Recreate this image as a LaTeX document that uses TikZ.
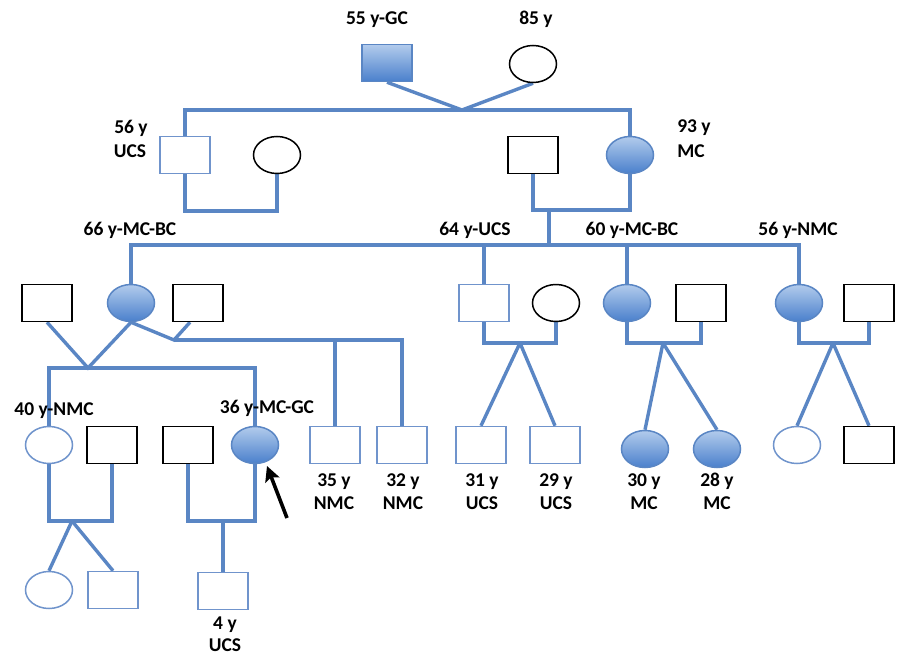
\documentclass[tikz,border=0pt]{standalone}
\usepackage{fontspec}
\setmainfont{Carlito}
\usetikzlibrary{shapes.geometric,arrows.meta,calc,backgrounds}
\definecolor{linec}{HTML}{5A86C4}
\definecolor{outl}{HTML}{7094CC}
\definecolor{filltop}{HTML}{B2CBEC}
\definecolor{fillbot}{HTML}{4A80CC}
\tikzset{
  conn/.style={draw=linec, line width=3.4pt, line join=miter},
  base/.style={inner sep=0pt, minimum width=50pt, minimum height=37pt, line width=1.5pt},
  sqb/.style={base, rectangle, draw=black, fill=white},
  sql/.style={base, rectangle, draw=outl, fill=white},
  sqf/.style={base, rectangle, draw=linec, top color=filltop, bottom color=fillbot},
  elb/.style={base, ellipse, minimum width=47pt, draw=black, fill=white},
  ell/.style={base, ellipse, minimum width=47pt, draw=outl, fill=white},
  elf/.style={base, ellipse, minimum width=47pt, draw=linec, top color=filltop, bottom color=fillbot},
  lbl/.style={anchor=base, inner sep=0pt, font=\fontsize{19.5}{24}\selectfont\bfseries},
}
\begin{document}
\begin{tikzpicture}[x=1pt,y=-1pt]
\useasboundingbox (0,0) rectangle (898,656);
% generation I
\node[sqf] (gcf) at (387,63) {};
\node[elb] (gcm) at (533,64) {};
% generation II
\node[sql] (ucs56) at (185,155) {};
\node[elb] (w56) at (277,155) {};
\node[sqb] (h93) at (533,155) {};
\node[elf] (mc93) at (630,155) {};
% generation III
\node[sqb] (lsp) at (47,303) {};
\node[elf] (mc66) at (131,303) {};
\node[sqb] (rsp) at (198,303) {};
\node[sql] (ucs64) at (484,303) {};
\node[elb] (w64) at (556,303) {};
\node[elf] (mc60) at (627,303) {};
\node[sqb] (h60) at (701,303) {};
\node[elf] (nmc56) at (799,303) {};
\node[sqb] (h56) at (869,303) {};
% generation IV
\node[ell] (nmc40) at (49,445) {};
\node[sqb] (h40) at (112,445) {};
\node[sqb] (h36) at (188,445) {};
\node[elf] (mc36) at (255,445) {};
\node[sql] (nmc35) at (335,445) {};
\node[sql] (nmc32) at (402,445) {};
\node[sql] (ucs31) at (481,445) {};
\node[sql] (ucs29) at (555,445) {};
\node[elf] (mc30) at (645,449) {};
\node[elf] (mc28) at (717,449) {};
\node[ell] (d56) at (797,445) {};
\node[sqb] (s56) at (869,445) {};
% generation V
\node[ell] (g1) at (49,590) {};
\node[sql] (g2) at (113,590) {};
\node[sql] (ucs4) at (223,591) {};
% junction coordinates
\coordinate (j1) at (462,110);
\coordinate (m1) at (231,211);
\coordinate (m2) at (549,210);
\coordinate (s2) at (549,245);
\coordinate (a1) at (88,368);
\coordinate (b1) at (174,340);
\coordinate (m3) at (520,343);
\coordinate (m4) at (663,343);
\coordinate (m5) at (833,343);
\coordinate (m6) at (72,521);
\coordinate (m7) at (223,521);
\coordinate (arrs) at (287,518);
\coordinate (arre) at (267,466);
\begin{scope}[on background layer]
\draw[conn] (gcf.south) -- (j1) -- (gcm.south);
\draw[conn] (ucs56.north) |- (j1) -| (mc93.north);
\draw[conn] (ucs56.south) |- (m1) -| (w56.south);
\draw[conn] (h93.south) |- (m2) -| (mc93.south);
\draw[conn] (m2) -- (s2);
\draw[conn] (mc66.north) |- (s2) -| (nmc56.north);
\draw[conn] (ucs64.north) |- (s2);
\draw[conn] (mc60.north) |- (s2);
\draw[conn] (lsp.south) -- (a1) -- (mc66.south);
\draw[conn] (nmc40.north) |- (a1) -| (mc36.north);
\draw[conn] (mc66.south) -- (b1) -- ($(rsp.south)+(-8,0)$);
\draw[conn] (nmc35.north) |- (b1);
\draw[conn] (b1) -| (nmc32.north);
\draw[conn] (ucs64.south) |- (m3) -| (w64.south);
\draw[conn] (m3) -- (ucs31.north);
\draw[conn] (m3) -- (ucs29.north);
\draw[conn] (mc60.south) |- (m4) -| (h60.south);
\draw[conn] (m4) -- (mc30.north);
\draw[conn] (m4) -- (mc28.north);
\draw[conn] (nmc56.south) |- (m5) -| (h56.south);
\draw[conn] (m5) -- (d56.north);
\draw[conn] (m5) -- (s56.north);
\draw[conn] (nmc40.south) |- (m6) -| (h40.south);
\draw[conn] (m6) -- (g1.north);
\draw[conn] (m6) -- (g2.north);
\draw[conn] (h36.south) |- (m7) -| (mc36.south);
\draw[conn] (m7) -- (ucs4.north);
\end{scope}
\draw[line width=3.6pt, -{Stealth[length=15pt,width=15pt,inset=3pt]}] (arrs) -- (arre);
% labels
\node[lbl] (t55) at (377,24) {55 y-GC};
\node[lbl] (t85) at (536,24) {85 y};
\node[lbl] (t56a) at (131,133) {56 y};
\node[lbl] (t56b) at (130,157) {UCS};
\node[lbl] (t93a) at (694,132) {93 y};
\node[lbl] (t93b) at (691,157) {MC};
\node[lbl] (t66) at (130,235) {66 y-MC-BC};
\node[lbl] (t64) at (475,235) {64 y-UCS};
\node[lbl] (t60) at (632,235) {60 y-MC-BC};
\node[lbl] (t56n) at (798,235) {56 y-NMC};
\node[lbl] (t40) at (54,415) {40 y-NMC};
\node[lbl] (t36) at (267,413) {36 y-MC-GC};
\node[lbl] (t35a) at (334,486) {35 y};
\node[lbl] (t35b) at (334,509) {NMC};
\node[lbl] (t32a) at (403,486) {32 y};
\node[lbl] (t32b) at (403,509) {NMC};
\node[lbl] (t31a) at (482,486) {31 y};
\node[lbl] (t31b) at (482,509) {UCS};
\node[lbl] (t29a) at (556,486) {29 y};
\node[lbl] (t29b) at (556,509) {UCS};
\node[lbl] (t30a) at (644,486) {30 y};
\node[lbl] (t30b) at (644,509) {MC};
\node[lbl] (t28a) at (717,486) {28 y};
\node[lbl] (t28b) at (717,509) {MC};
\node[lbl] (t4a) at (225,629) {4 y};
\node[lbl] (t4b) at (225,651) {UCS};
\end{tikzpicture}
\end{document}
